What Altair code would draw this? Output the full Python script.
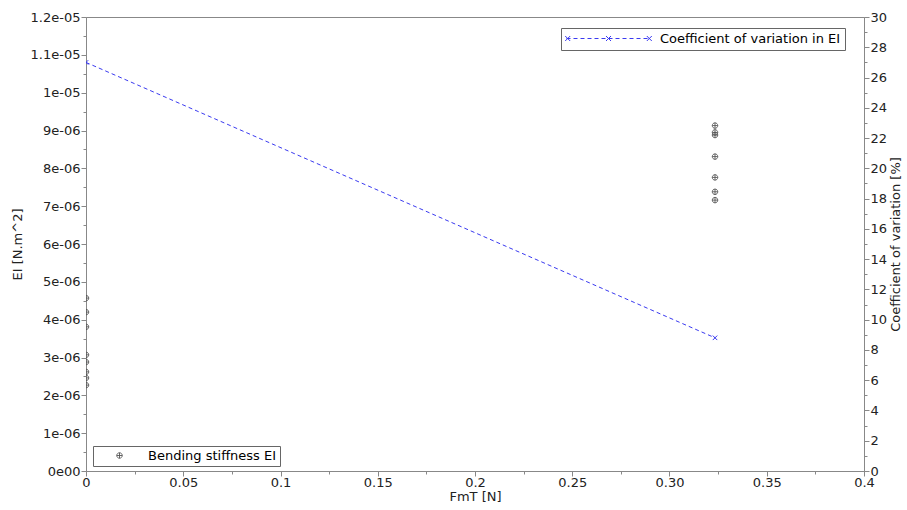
import altair as alt
import pandas as pd

# ---- data ----
ei_fmt = [0.0] * 8 + [0.3234] * 7
ei_vals = [4.57e-06, 4.20e-06, 3.81e-06, 3.07e-06, 2.88e-06, 2.62e-06, 2.46e-06, 2.27e-06,
           9.13e-06, 8.95e-06, 8.88e-06, 8.31e-06, 7.76e-06, 7.38e-06, 7.16e-06]
cv_fmt = [0.0, 0.3234]
cv_vals = [27.0, 8.8]

x_major = [0, 0.05, 0.1, 0.15, 0.2, 0.25, 0.3, 0.35, 0.4]
x_labels = ["0", "0.05", "0.1", "0.15", "0.2", "0.25", "0.30", "0.35", "0.4"]
y_labels = ["0e00", "1e-06", "2e-06", "3e-06", "4e-06", "5e-06", "6e-06", "7e-06",
            "8e-06", "9e-06", "1e-05", "1.1e-05", "1.2e-05"]

ei_df = pd.DataFrame({"FmT": ei_fmt, "EI": ei_vals, "series": "Bending stiffness EI"})
cv_df = pd.DataFrame({"FmT": cv_fmt, "CV": cv_vals, "series": "Coefficient of variation in EI"})

FONT = "DejaVu Sans"
AXIS_COLOR = "#888888"
BLUE = "#3a3af0"
PT_COLOR = "#555555"

# ticks including minor ones
x_ticks = [round(i * 0.025, 4) for i in range(17)]
x_map = "{" + ",".join(f"'{v}':'{l}'" for v, l in zip(x_major, x_labels)) + "}"
y_ticks = [i * 0.5e-06 for i in range(25)]
y_map_pairs = ",".join(f"'{i}':'{l}'" for i, l in enumerate(y_labels))
y2_ticks = list(range(0, 31))

circle_plus = "M-1,0A1,1 0 1,0 1,0A1,1 0 1,0 -1,0M-1,0L1,0M0,-1L0,1"
x_shape = "M-1,-1L1,1M-1,1L1,-1"

# legend symbol: dashed line with x markers (scale 4 px / unit)
def legend_path():
    s = 4.0
    half = 42 / s
    parts = []
    pos = -half
    dash, gap = 4 / s, 3 / s
    while pos < half:
        e = min(pos + dash, half)
        parts.append(f"M{pos:.3f},0L{e:.3f},0")
        pos = e + gap
    m = 2.5 / s
    for cx in (-half + 0.3, 0.0, half - 0.3):
        parts.append(f"M{cx-m:.3f},{-m:.3f}L{cx+m:.3f},{m:.3f}M{cx-m:.3f},{m:.3f}L{cx+m:.3f},{-m:.3f}")
    return "".join(parts)

x_enc = alt.X(
    "FmT:Q",
    scale=alt.Scale(domain=[0, 0.4], nice=False, zero=False),
    axis=alt.Axis(
        title="FmT [N]", values=x_ticks, grid=False,
        labelExpr=f"({x_map})[toString(datum.value)] || ''",
        tickSize={"condition": {"test": f"({x_map})[toString(datum.value)]", "value": 5}, "value": 3},
        labelFlush=False, labelOverlap=False,
    ),
)

points = alt.Chart(ei_df).mark_point(shape=circle_plus, size=30, strokeWidth=0.9, clip=True, opacity=1).encode(
    x=x_enc,
    y=alt.Y(
        "EI:Q",
        scale=alt.Scale(domain=[0, 1.2e-05], nice=False, zero=False),
        axis=alt.Axis(
            title="EI [N.m^2]", values=y_ticks, grid=False, orient="left",
            labelExpr=f"({{{y_map_pairs}}})[toString(round(datum.value*1e6*1000)/1000)] || ''",
            tickSize={"condition": {"test": "abs(datum.value*1e6 - round(datum.value*1e6)) < 0.01", "value": 5}, "value": 3},
            labelOverlap=False, labelFlush=False,
        ),
    ),
    color=alt.Color(
        "series:N",
        scale=alt.Scale(range=[PT_COLOR]),
        legend=alt.Legend(
            title=None, orient="none", legendX=7, legendY=429, direction="vertical",
            symbolType=circle_plus, symbolSize=30, symbolStrokeWidth=0.9,
            strokeColor="#666666", padding=3, symbolOffset=17, labelOffset=22,
            labelFontSize=13, labelFont=FONT, labelColor="#000000", fillColor="white",
            labelLimit=400, rowPadding=0,
        ),
    ),
)

line = alt.Chart(cv_df).mark_line(
    strokeDash=[4, 3], strokeWidth=1, clip=True,
    point=alt.OverlayMarkDef(shape=x_shape, size=20, strokeWidth=1, filled=False, color=BLUE, clip=True),
).encode(
    x=x_enc,
    y=alt.Y(
        "CV:Q",
        scale=alt.Scale(domain=[0, 30], nice=False, zero=False),
        axis=alt.Axis(
            title="Coefficient of variation [%]", values=y2_ticks, grid=False, orient="right",
            labelExpr="datum.value % 2 == 0 ? toString(datum.value) : ''",
            tickSize={"condition": {"test": "datum.value % 2 == 0", "value": 5}, "value": 3},
            labelOverlap=False, labelFlush=False,
            titleAngle=270, titleBaseline="top", titlePadding=3,
        ),
    ),
    color=alt.Color(
        "series:N",
        scale=alt.Scale(range=[BLUE]),
        legend=alt.Legend(
            title=None, orient="none", legendX=475, legendY=11, direction="vertical",
            symbolType=legend_path(), symbolSize=64, symbolStrokeWidth=1, symbolFillColor="transparent",
            strokeColor="#666666", padding=4, symbolOffset=37, labelOffset=45,
            labelFontSize=13, labelFont=FONT, labelColor="#000000", fillColor="white",
            labelLimit=400, rowPadding=0,
        ),
    ),
)

chart = alt.layer(points, line).resolve_scale(
    y="independent", color="independent"
).properties(
    width=778, height=454,
    autosize=alt.AutoSizeParams(type="none"),
    padding={"left": 86, "top": 17, "right": 43, "bottom": 39},
).configure_view(
    stroke=AXIS_COLOR, strokeWidth=1,
).configure_axis(
    domainColor=AXIS_COLOR, tickColor=AXIS_COLOR, labelColor="#222222", titleColor="#222222",
    labelFont=FONT, titleFont=FONT, labelFontSize=13, titleFontSize=13, titleFontWeight="normal",
    labelPadding=1,
).configure_axisLeft(titlePadding=6).configure_axisBottom(
    titlePadding=1, labelPadding=0
)

chart.save("out.html", embed_options={"renderer": "svg", "actions": False})
